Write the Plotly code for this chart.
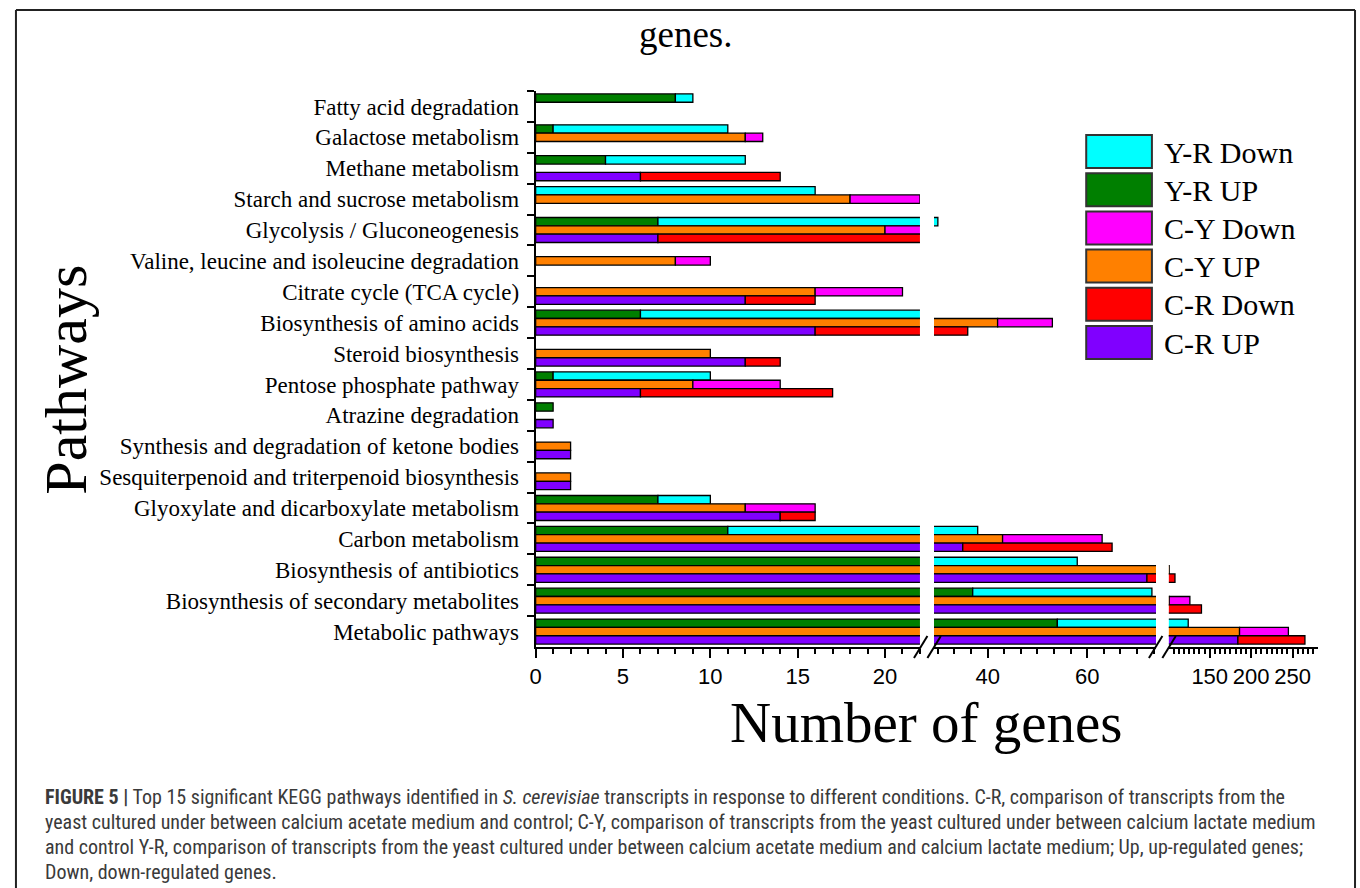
import plotly.graph_objects as go

# ---- data -----------------------------------------------------------------
pathways = [
    "Fatty acid degradation",
    "Galactose metabolism",
    "Methane metabolism",
    "Starch and sucrose metabolism",
    "Glycolysis / Gluconeogenesis",
    "Valine, leucine and isoleucine degradation",
    "Citrate cycle (TCA cycle)",
    "Biosynthesis of amino acids",
    "Steroid biosynthesis",
    "Pentose phosphate pathway",
    "Atrazine degradation",
    "Synthesis and degradation of ketone bodies",
    "Sesquiterpenoid and triterpenoid biosynthesis",
    "Glyoxylate and dicarboxylate metabolism",
    "Carbon metabolism",
    "Biosynthesis of antibiotics",
    "Biosynthesis of secondary metabolites",
    "Metabolic pathways",
]

yr_up   = [8, 1, 4, None, 7, None, None, 6, None, 1, 1, None, None, 7, 11, 25, 37, 54]
yr_down = [1, 10, 8, 16, 23, None, None, 18, None, 9, None, None, None, 3, 27, 33, 36, 70]
cy_up   = [None, 12, None, 18, 20, 8, 16, 42, 10, 9, None, 2, 2, 12, 43, 101, 101, 186]
cy_down = [None, 1, None, 4, 5, 2, 5, 11, None, 5, None, None, None, 4, 20, None, 25, 59]
cr_up   = [None, None, 6, None, 7, None, 12, 16, 12, 6, 1, 2, 2, 14, 35, 72, 95, 184]
cr_down = [None, None, 8, None, 19, None, 4, 20, 2, 11, None, None, None, 2, 30, 36, 45, 81]

# comparison groups: (name, up values, down values, up colour, down colour)
groups = [
    ("Y-R", yr_up, yr_down, "#007F00", "#00FFFF"),
    ("C-Y", cy_up, cy_down, "#FF8000", "#FF00FF"),
    ("C-R", cr_up, cr_down, "#8000FF", "#FF0000"),
]

legend_items = [
    ("Y-R Down", "#00FFFF"),
    ("Y-R UP", "#007F00"),
    ("C-Y Down", "#FF00FF"),
    ("C-Y UP", "#FF8000"),
    ("C-R Down", "#FF0000"),
    ("C-R UP", "#8000FF"),
]

# ---- page geometry --------------------------------------------------------
W, H = 1360, 888


def px(x):
    return x / W


def py(y):
    return 1 - y / H


SERIF = "Liberation Serif, Times New Roman, serif"
SANS = "Liberation Sans, Arial, sans-serif"

# broken x axis: three segments, each with its own range
segments = [
    dict(name="x", dom=(532, 918), rng=(0, 22.0), dtick=5, minor=1),
    dict(name="x2", dom=(932, 1155), rng=(29.2, 73.8), dtick=20, minor=20 / 6),
    dict(name="x3", dom=(1168, 1318), rng=(100.6, 281), dtick=50, minor=6.25),
]

bar_h = 0.27
slot_offsets = [-0.405, -0.135, 0.135]

fig = go.Figure()

for seg in segments:
    for (gname, up, down, c_up, c_down), off in zip(groups, slot_offsets):
        base_down = [u if u is not None else 0 for u in up]
        fig.add_trace(go.Bar(
            y=pathways, x=up, orientation="h", base=0,
            width=bar_h, offset=off,
            marker=dict(color=c_up, line=dict(color="black", width=1.3)),
            name=f"{gname} UP", showlegend=False,
            xaxis=seg["name"], yaxis="y",
        ))
        fig.add_trace(go.Bar(
            y=pathways, x=down, orientation="h", base=base_down,
            width=bar_h, offset=off,
            marker=dict(color=c_down, line=dict(color="black", width=1.3)),
            name=f"{gname} Down", showlegend=False,
            xaxis=seg["name"], yaxis="y",
        ))

layout_axes = {}
for seg in segments:
    key = "xaxis" if seg["name"] == "x" else "xaxis" + seg["name"][1:]
    layout_axes[key] = dict(
        domain=[px(seg["dom"][0]), px(seg["dom"][1])],
        range=list(seg["rng"]),
        anchor="y",
        showline=True, linecolor="black", linewidth=2,
        showgrid=False, zeroline=False,
        ticks="outside", ticklen=9, tickwidth=2, tickcolor="black",
        tickmode="linear", tick0=0, dtick=seg["dtick"],
        minor=dict(ticks="outside", ticklen=5, tickwidth=1.5, tickcolor="black",
                   tick0=0, dtick=seg["minor"], showgrid=False),
        tickfont=dict(family=SANS, size=22, color="black"),
        fixedrange=True,
    )

fig.update_layout(
    width=W, height=H,
    margin=dict(l=0, r=0, t=0, b=0),
    paper_bgcolor="white", plot_bgcolor="white",
    barmode="overlay",
    showlegend=False,
    yaxis=dict(
        domain=[py(647), py(91)],
        anchor="x",
        type="category",
        categoryorder="array", categoryarray=pathways,
        range=[len(pathways) - 0.5, -0.5],
        showline=True, linecolor="black", linewidth=2,
        showgrid=False, zeroline=False,
        ticks="outside", tickson="boundaries", ticklen=7, tickwidth=2, tickcolor="black",
        ticklabelstandoff=10,
        tickfont=dict(family=SERIF, size=23, color="black"),
        fixedrange=True,
    ),
    **layout_axes,
)

shapes = []
annotations = []

# page frame
for x0, y0, x1, y1 in [(10, 10, 1355, 10), (10, 10, 10, 888), (1355, 10, 1355, 888)]:
    shapes.append(dict(type="line", xref="paper", yref="paper",
                       x0=px(x0), y0=py(y0), x1=px(x1), y1=py(y1),
                       line=dict(color="#222222", width=2)))

# axis break marks
for xa in (912, 1148):
    for dx in (0, 13.5):
        shapes.append(dict(type="line", xref="paper", yref="paper",
                           x0=px(xa + dx), y0=py(658), x1=px(xa + dx + 13.5), y1=py(636),
                           line=dict(color="black", width=2)))

# legend boxes and labels
for i, (label, color) in enumerate(legend_items):
    top = 135 + i * 38.2
    shapes.append(dict(type="rect", xref="paper", yref="paper",
                       x0=px(1085), x1=px(1151), y0=py(top + 33), y1=py(top),
                       fillcolor=color, line=dict(color="#333333", width=2)))
    annotations.append(dict(xref="paper", yref="paper", x=px(1161), y=py(top + 17),
                            xanchor="left", yanchor="middle", showarrow=False,
                            text=label, font=dict(family=SERIF, size=30, color="black")))

# titles
annotations.append(dict(xref="paper", yref="paper", x=px(683), y=py(35),
                        xanchor="center", yanchor="middle", showarrow=False,
                        text="genes.", font=dict(family=SERIF, size=37, color="black")))
annotations.append(dict(xref="paper", yref="paper", x=px(60), y=py(380),
                        xanchor="center", yanchor="middle", showarrow=False, textangle=-90,
                        text="Pathways", font=dict(family=SERIF, size=60, color="black")))
annotations.append(dict(xref="paper", yref="paper", x=px(925), y=py(722),
                        xanchor="center", yanchor="middle", showarrow=False,
                        text="Number of genes", font=dict(family=SERIF, size=57, color="black")))

# figure caption
caption_lines = [
    "<b>FIGURE 5 |</b> Top 15 significant KEGG pathways identified in <i>S. cerevisiae</i> "
    "transcripts in response to different conditions. C-R, comparison of transcripts from the",
    "yeast cultured under between calcium acetate medium and control; C-Y, comparison of "
    "transcripts from the yeast cultured under between calcium lactate medium",
    "and control Y-R, comparison of transcripts from the yeast cultured under between calcium "
    "acetate medium and calcium lactate medium; Up, up-regulated genes;",
    "Down, down-regulated genes.",
]
for i, line in enumerate(caption_lines):
    annotations.append(dict(xref="paper", yref="paper", x=px(37), y=py(797 + i * 25),
                            xanchor="left", yanchor="middle", showarrow=False, align="left",
                            text=line,
                            font=dict(family="Liberation Sans Narrow, Roboto Condensed, " + SANS,
                                      size=20, color="#3a3a3a")))

fig.update_layout(shapes=shapes, annotations=annotations)

fig.write_html("out.html")
